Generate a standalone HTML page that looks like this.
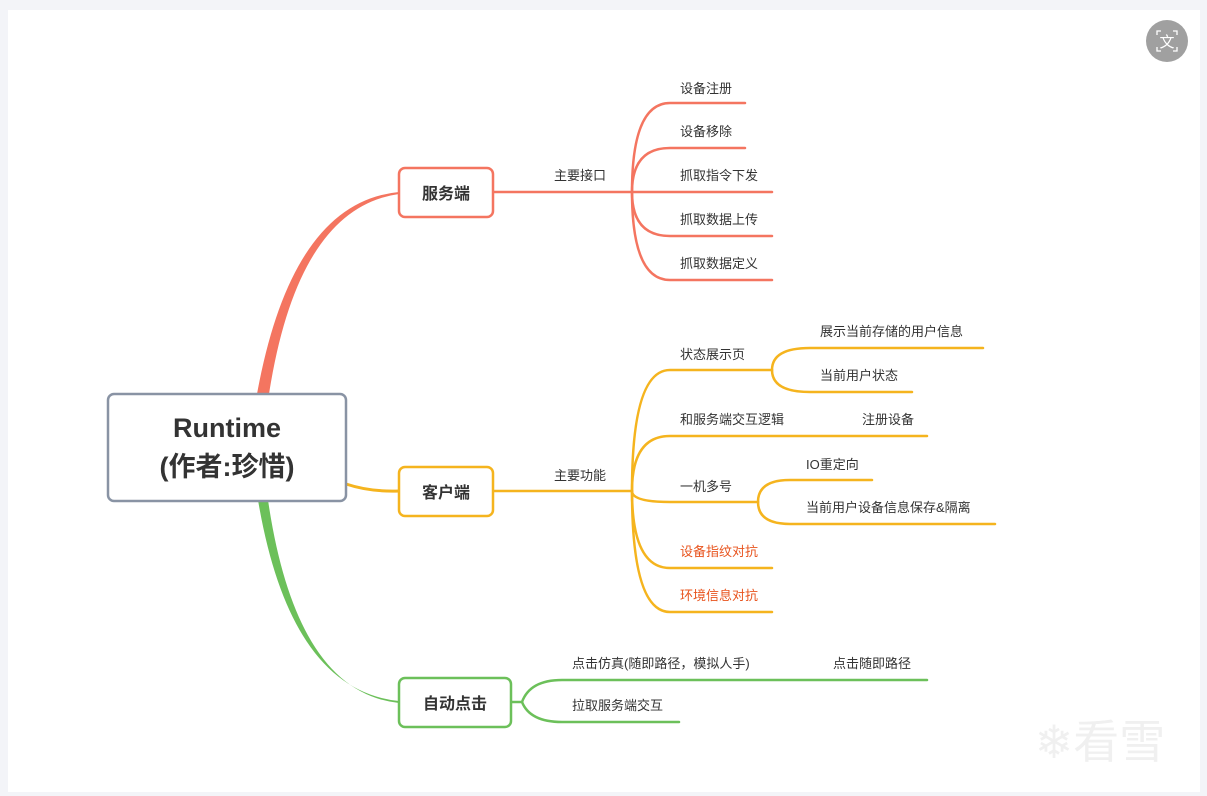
<!DOCTYPE html>
<html><head><meta charset="utf-8"><style>
html,body{margin:0;padding:0;background:#f3f4f8;}
.card{position:absolute;left:8px;top:10px;width:1192px;height:782px;background:#fff;}
svg{position:absolute;left:0;top:0;}
text{font-family:"Liberation Sans","Noto Sans CJK SC",sans-serif;}
</style></head><body>
<div class="card"></div>
<svg width="1207" height="796" viewBox="0 0 1207 796">
<g fill="none" stroke-linecap="round">
<!-- trunks -->
<path d="M257,394 Q292,202 399,192 L399,194 Q298,208 269,394 Z" fill="#f47560" stroke="none"/>
<path d="M258,500 Q290,690 399,701 L399,703 Q296,692 268,500 Z" fill="#6cc05a" stroke="none"/>
<path d="M346,484 Q370,492 399,491" stroke="#f5b41e" stroke-width="3"/>
<!-- server -->
<g stroke="#f47560" stroke-width="2.5">
<path d="M493,192 H632"/>
<path d="M632,192 Q632,103 670,103 H745"/>
<path d="M632,192 Q632,148 670,148 H745"/>
<path d="M632,192 H772"/>
<path d="M632,192 Q632,236 670,236 H772"/>
<path d="M632,192 Q632,280 670,280 H772"/>
</g>
<!-- client -->
<g stroke="#f5b41e" stroke-width="2.5">
<path d="M493,491 H632"/>
<path d="M632,491 Q632,370 670,370 H772"/>
<path d="M772,370 Q772,348 810,348 H983"/>
<path d="M772,370 Q772,392 810,392 H912"/>
<path d="M632,491 Q632,436 670,436 H927"/>
<path d="M632,491 Q632,502 670,502 H758"/>
<path d="M758,502 Q758,480 790,480 H872"/>
<path d="M758,502 Q758,524 790,524 H995"/>
<path d="M632,491 Q632,568 670,568 H772"/>
<path d="M632,491 Q632,612 670,612 H772"/>
</g>
<!-- auto click -->
<g stroke="#6cc05a" stroke-width="2.5">
<path d="M511,702 H522"/>
<path d="M522,702 Q530,680 562,680 H927"/>
<path d="M522,702 Q530,722 562,722 H679"/>
</g>
<!-- boxes -->
<rect x="108" y="394" width="238" height="107" rx="6" fill="#fff" stroke="#8993a4" stroke-width="2.5"/>
<rect x="399" y="168" width="94" height="49" rx="6" fill="#fff" stroke="#f47560" stroke-width="2.5"/>
<rect x="399" y="467" width="94" height="49" rx="6" fill="#fff" stroke="#f5b41e" stroke-width="2.5"/>
<rect x="399" y="678" width="112" height="49" rx="6" fill="#fff" stroke="#6cc05a" stroke-width="2.5"/>
</g>
<g fill="#333" font-weight="bold" text-anchor="middle">
<text x="227" y="437" font-size="27">Runtime</text>
<text x="227" y="476" font-size="27">(作者:珍惜)</text>
<text x="446" y="199" font-size="16">服务端</text>
<text x="446" y="498" font-size="16">客户端</text>
<text x="455" y="709" font-size="16">自动点击</text>
</g>
<g fill="#333" font-size="13">
<text x="554" y="180">主要接口</text>
<text x="680" y="93">设备注册</text>
<text x="680" y="136">设备移除</text>
<text x="680" y="180">抓取指令下发</text>
<text x="680" y="224">抓取数据上传</text>
<text x="680" y="268">抓取数据定义</text>
<text x="554" y="480">主要功能</text>
<text x="680" y="359">状态展示页</text>
<text x="820" y="336">展示当前存储的用户信息</text>
<text x="820" y="380">当前用户状态</text>
<text x="680" y="424">和服务端交互逻辑</text>
<text x="862" y="424">注册设备</text>
<text x="680" y="491">一机多号</text>
<text x="806" y="469">IO重定向</text>
<text x="806" y="512">当前用户设备信息保存&amp;隔离</text>
<text x="680" y="556" fill="#e8541e">设备指纹对抗</text>
<text x="680" y="600" fill="#e8541e">环境信息对抗</text>
<text x="572" y="668">点击仿真(随即路径，模拟人手)</text>
<text x="833" y="668">点击随即路径</text>
<text x="572" y="710">拉取服务端交互</text>
</g>
<circle cx="1167" cy="41" r="21" fill="#a0a0a0"/>
<text x="1167" y="47" font-size="15" fill="#fff" text-anchor="middle">文</text>
<path d="M1157,35 v-4 h4 M1173,31 h4 v4 M1177,47 v4 h-4 M1161,51 h-4 v-4" stroke="#fff" stroke-width="1.3" fill="none"/>
<text x="1100" y="758" font-size="46" fill="#f0f0f0" text-anchor="middle">❄看雪</text>
</svg>
</body></html>
